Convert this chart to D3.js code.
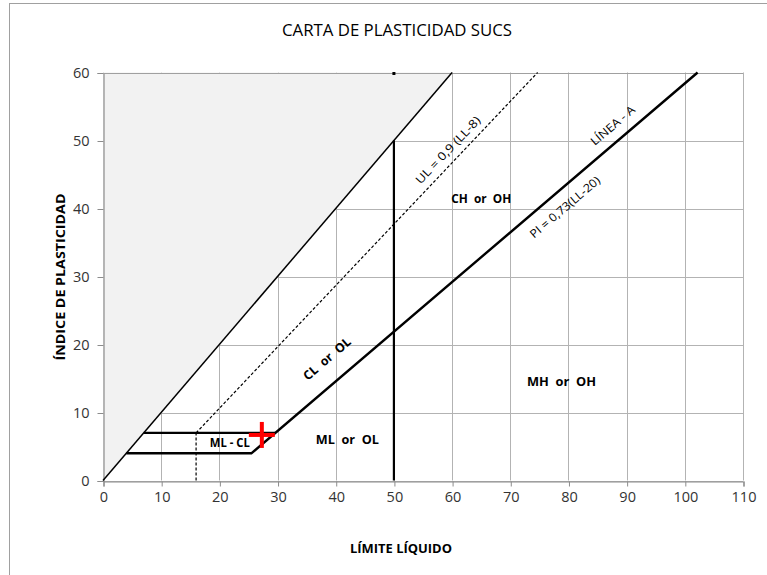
<!DOCTYPE html>
<html>
<head>
<meta charset="utf-8">
<script src="https://cdn.jsdelivr.net/npm/d3@7"></script>
<style>
  html, body { margin: 0; padding: 0; background: #fff; }
  svg { display: block; }
</style>
</head>
<body>
<div id="chart"></div>
<script>
// Axis ticks
const xTicks = [0, 10, 20, 30, 40, 50, 60, 70, 80, 90, 100, 110];
const yTicks = [0, 10, 20, 30, 40, 50, 60];

// Boundary lines of the Casagrande plasticity chart (LL, PI)
const equalLine = [[0, 0], [60, 60]];            // PI = LL limit
const uLine = [[16, 7], [74.7, 60]];              // U-line
const uFoot = [[16, 0], [16, 7]];                 // U-line vertical foot
const aLine = [[4, 4], [25.5, 4], [102.2, 60]];   // A-line with lower step
const upperStep = [[7, 7], [29.6, 7]];            // PI = 7 step
const llFifty = [[50, 0], [50, 50]];              // LL = 50 divider
const topMark = [[50, 60]];
const shadeArea = [[0, 0], [0, 60], [60, 60]];

// Tested sample
const samplePoint = [27.3, 6.7];

// Zone labels [text, LL, PI, angle(deg), bold, width px]
const zoneLabels = [
  ["ML - CL", 21.8, 5.5, 0, true, 40],
  ["ML  or  OL", 42.0, 6.0, 0, true, 63],
  ["MH  or  OH", 78.8, 14.5, 0, true, 69],
  ["CH  or  OH", 65.0, 41.5, 0, true, 60],
  ["CL  or  OL", 38.5, 17.9, -40.4, true, 58],
  ["UL = 0,9 (LL-8)", 59.3, 48.6, -46.4, false, 88],
  ["LÍNEA - A", 87.6, 52.2, -40.4, false, 54],
  ["PI = 0,73(LL-20)", 79.4, 40.2, -40.4, false, 88]
];

const W = 767, H = 575;
const svg = d3.select("#chart").append("svg").attr("width", W).attr("height", H);

// Outer frame
svg.append("rect").attr("x", 9.5).attr("y", 3.5).attr("width", W).attr("height", H)
  .attr("fill", "none").attr("stroke", "#a0a0a0").attr("stroke-width", 1);

const x = d3.scaleLinear().domain([0, 110]).range([103, 743]);
const y = d3.scaleLinear().domain([0, 60]).range([480.5, 72.5]);

const g = svg.append("g");

// Grid
g.append("g").selectAll("line").data(xTicks).join("line")
  .attr("x1", d => Math.round(x(d)) + 0.5).attr("x2", d => Math.round(x(d)) + 0.5)
  .attr("y1", y(0)).attr("y2", y(60))
  .attr("stroke", "#b3b3b3").attr("stroke-width", 1);
g.append("g").selectAll("line").data(yTicks).join("line")
  .attr("y1", d => Math.round(y(d)) + 0.5).attr("y2", d => Math.round(y(d)) + 0.5)
  .attr("x1", x(0)).attr("x2", x(110))
  .attr("stroke", "#b3b3b3").attr("stroke-width", 1);

// Shaded region above PI = LL
const line = d3.line().x(d => x(d[0])).y(d => y(d[1]));
g.append("path").attr("d", line(shadeArea) + "Z").attr("fill", "#f2f2f2");

// Axes
const xAxis = d3.axisBottom(x).tickValues(xTicks).tickSize(5).tickPadding(5);
const yAxis = d3.axisLeft(y).tickValues(yTicks).tickSize(6).tickPadding(8);
const gx = g.append("g").attr("transform", `translate(0.5,${Math.round(y(0)) + 0.5})`).call(xAxis);
const gy = g.append("g").attr("transform", `translate(${Math.round(x(0)) + 0.5},0.5)`).call(yAxis);
[gx, gy].forEach(a => {
  a.select(".domain").attr("stroke", "#8c8c8c").attr("stroke-width", 1.2);
  a.selectAll(".tick line").attr("stroke", "#8c8c8c");
  a.selectAll(".tick text").attr("fill", "#333")
    .style("font-family", "'Open Sans', 'Liberation Sans', sans-serif").style("font-size", "14.5px");
});
// Top edge of the plot
g.append("line").attr("x1", x(0)).attr("x2", x(110)).attr("y1", Math.round(y(60)) + 0.5).attr("y2", Math.round(y(60)) + 0.5)
  .attr("stroke", "#a0a0a0");

// Boundary lines
g.append("path").attr("d", line(equalLine)).attr("fill", "none").attr("stroke", "#000").attr("stroke-width", 1.5);
g.append("path").attr("d", line(uLine)).attr("fill", "none").attr("stroke", "#000").attr("stroke-width", 1.2).attr("stroke-dasharray", "3,2");
g.append("path").attr("d", line(uFoot)).attr("fill", "none").attr("stroke", "#000").attr("stroke-width", 1.2).attr("stroke-dasharray", "3,2");
g.append("path").attr("d", line(aLine)).attr("fill", "none").attr("stroke", "#000").attr("stroke-width", 2.4).attr("stroke-linejoin", "miter");
g.append("path").attr("d", line(upperStep)).attr("fill", "none").attr("stroke", "#000").attr("stroke-width", 2.2);
g.append("path").attr("d", line(llFifty)).attr("fill", "none").attr("stroke", "#000").attr("stroke-width", 2.2);
g.selectAll(".topmark").data(topMark).join("rect").attr("class", "topmark")
  .attr("x", d => x(d[0]) - 1.5).attr("y", d => y(d[1]) - 0.5).attr("width", 3).attr("height", 3).attr("fill", "#000");

// Sample marker: red cross
const cs = 13;
const sp = g.append("g").attr("transform", `translate(${x(samplePoint[0])},${y(samplePoint[1])})`);
sp.append("line").attr("x1", -cs).attr("x2", cs).attr("y1", 0).attr("y2", 0).attr("stroke", "#ff0000").attr("stroke-width", 4);
sp.append("line").attr("y1", -cs).attr("y2", cs).attr("x1", 0).attr("x2", 0).attr("stroke", "#ff0000").attr("stroke-width", 4);

// Zone labels
g.selectAll(".zone").data(zoneLabels).join("text").attr("class", "zone")
  .attr("transform", d => `translate(${x(d[1])},${y(d[2])}) rotate(${d[3]})`)
  .attr("text-anchor", "middle").attr("dy", "0.35em")
  .style("font-family", "'Open Sans', sans-serif")
  .style("font-size", d => d[4] ? "12.5px" : "11.5px")
  .style("font-weight", d => d[4] ? "bold" : "normal")
  .style("white-space", "pre")
  .attr("textLength", d => d[5]).attr("lengthAdjust", "spacingAndGlyphs")
  .attr("fill", "#000")
  .text(d => d[0]);

// Titles
svg.append("text").attr("x", 397).attr("y", 36).attr("text-anchor", "middle")
  .style("font-family", "'Open Sans', sans-serif").style("font-size", "16px")
  .attr("textLength", 230).attr("lengthAdjust", "spacingAndGlyphs")
  .text("CARTA DE PLASTICIDAD SUCS");
svg.append("text").attr("x", 401).attr("y", 553).attr("text-anchor", "middle")
  .style("font-family", "'Open Sans', 'Liberation Sans', sans-serif").style("font-size", "13px").style("font-weight", "bold")
  .attr("textLength", 102).attr("lengthAdjust", "spacingAndGlyphs")
  .text("LÍMITE LÍQUIDO");
svg.append("text").attr("transform", "translate(65,277) rotate(-90)").attr("text-anchor", "middle")
  .style("font-family", "'Open Sans', 'Liberation Sans', sans-serif").style("font-size", "13px").style("font-weight", "bold")
  .attr("textLength", 167).attr("lengthAdjust", "spacingAndGlyphs")
  .text("ÍNDICE DE PLASTICIDAD");
</script>
</body>
</html>
